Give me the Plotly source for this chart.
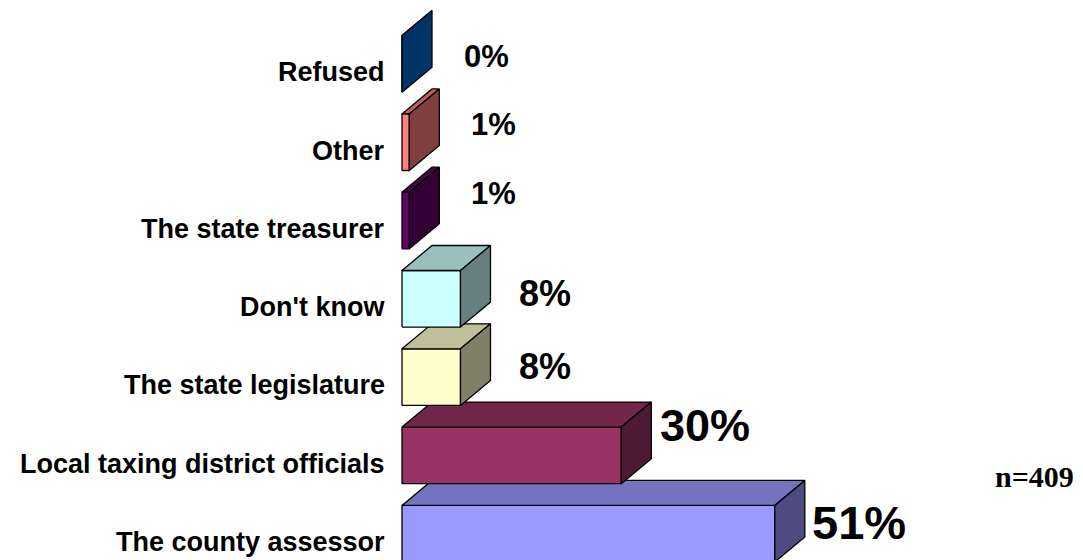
import plotly.graph_objects as go

# Survey responses, bottom bar first
categories = [
    "The county assessor",
    "Local taxing district officials",
    "The state legislature",
    "Don't know",
    "The state treasurer",
    "Other",
    "Refused",
]
values = [51, 30, 8, 8, 1, 1, 0]
sample_note = "n=409"

# Styling
front_colors = ["#9999FF", "#993366", "#FFFFCC", "#CCFFFF", "#660066", "#FF8080", "#0066CC"]
value_font_sizes = [47, 45, 36, 36, 31, 31, 31]
value_label_lift = [20, 38, 19, 14, 35, 26, 16]  # px above category line

W, H = 1083, 560
PX_PER_PCT = 7.31
PX_PER_CAT = 78.3
X0_PX = 402          # pixel position of the 0% baseline
Y0_PX = 542          # pixel position of the first category line

# 3-D box geometry (data units)
DEPTH_X = 30 / PX_PER_PCT
DEPTH_Y = 25 / PX_PER_CAT
FRONT_BOTTOM = -20 / PX_PER_CAT
FRONT_TOP = 36.6 / PX_PER_CAT


def shade(hex_color, k):
    h = hex_color.lstrip("#")
    r, g, b = (int(h[i:i + 2], 16) for i in (0, 2, 4))
    return "rgb({},{},{})".format(round(r * k), round(g * k), round(b * k))


def face(xs, ys, color):
    return go.Scatter(
        x=xs + [xs[0]], y=ys + [ys[0]],
        mode="lines", fill="toself", fillcolor=color,
        line=dict(color="black", width=1.3),
        hoverinfo="skip", showlegend=False,
    )


fig = go.Figure()

for i, (v, c) in enumerate(zip(values, front_colors)):
    yb, yt = i + FRONT_BOTTOM, i + FRONT_TOP
    # front face
    fig.add_trace(face([0, v, v, 0], [yb, yb, yt, yt], c))
    # top face
    fig.add_trace(face([0, v, v + DEPTH_X, DEPTH_X],
                       [yt, yt, yt + DEPTH_Y, yt + DEPTH_Y], shade(c, 0.75)))
    # side face
    fig.add_trace(face([v, v + DEPTH_X, v + DEPTH_X, v],
                       [yb, yb + DEPTH_Y, yt + DEPTH_Y, yt], shade(c, 0.5)))

annotations = []
for i, (cat, v) in enumerate(zip(categories, values)):
    annotations.append(dict(
        x=-15 / PX_PER_PCT, y=i, xref="x", yref="y",
        text=f"<b>{cat}</b>", showarrow=False,
        xanchor="right", yanchor="middle",
        font=dict(family="Arial, Liberation Sans, sans-serif", size=27, color="black"),
    ))
    annotations.append(dict(
        x=v + 11.5, y=i, xref="x", yref="y",
        yshift=value_label_lift[i],
        text=f"<b>{v}%</b>", showarrow=False,
        xanchor="center", yanchor="middle",
        font=dict(family="Arial, Liberation Sans, sans-serif",
                  size=value_font_sizes[i], color="black"),
    ))

annotations.append(dict(
    x=1034 / W, y=1 - 476 / H, xref="paper", yref="paper",
    text=f"<b>{sample_note}</b>", showarrow=False,
    xanchor="center", yanchor="middle",
    font=dict(family="Times New Roman, Liberation Serif, serif", size=30, color="black"),
))

fig.update_layout(
    width=W, height=H,
    margin=dict(l=0, r=0, t=0, b=0),
    paper_bgcolor="white", plot_bgcolor="white",
    xaxis=dict(range=[-X0_PX / PX_PER_PCT, (W - X0_PX) / PX_PER_PCT],
               visible=False, fixedrange=True),
    yaxis=dict(range=[-(H - Y0_PX) / PX_PER_CAT, Y0_PX / PX_PER_CAT],
               visible=False, fixedrange=True),
    annotations=annotations,
    showlegend=False,
)

fig.write_html("out.html")
